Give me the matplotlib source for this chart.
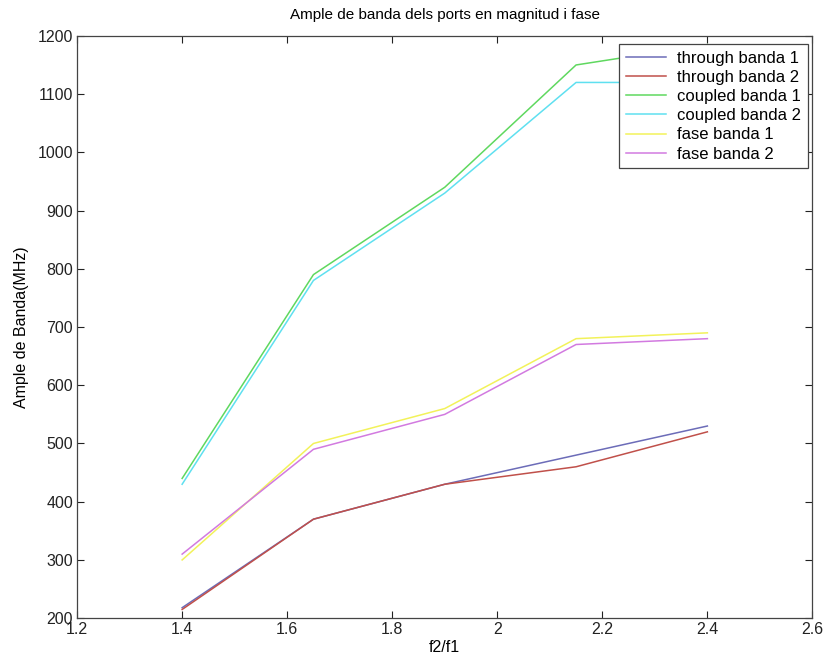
import matplotlib
matplotlib.use("Agg")
import matplotlib.pyplot as plt

plt.rcParams['font.family'] = ['Liberation Sans', 'DejaVu Sans']

ratio = [1.4, 1.65, 1.9, 2.15, 2.4]
through_b1 = [218, 370, 430, 480, 530]
through_b2 = [215, 370, 430, 460, 520]
coupled_b1 = [440, 790, 940, 1150, 1185]
coupled_b2 = [430, 780, 930, 1120, 1120]
fase_b1 = [300, 500, 560, 680, 690]
fase_b2 = [310, 490, 550, 670, 680]

series = [
    ("through banda 1", through_b1, "#6c6cb8"),
    ("through banda 2", through_b2, "#c0504a"),
    ("coupled banda 1", coupled_b1, "#5fd85f"),
    ("coupled banda 2", coupled_b2, "#5fe0f0"),
    ("fase banda 1", fase_b1, "#f2f25a"),
    ("fase banda 2", fase_b2, "#d27ae0"),
]

fig = plt.figure(figsize=(8.29, 6.64), dpi=100)
ax = fig.add_axes([0.093, 0.069, 0.887, 0.877])

for label, vals, col in series:
    ax.plot(ratio, vals, color=col, lw=1.1, label=label)

ax.set_xlim(1.2, 2.6)
ax.set_ylim(200, 1200)
ax.set_xticks([1.2, 1.4, 1.6, 1.8, 2.0, 2.2, 2.4, 2.6])
ax.set_xticklabels(["1.2", "1.4", "1.6", "1.8", "2", "2.2", "2.4", "2.6"])
ax.set_yticks(range(200, 1201, 100))

ax.tick_params(direction='in', length=5, width=0.8, labelsize=11.5,
               top=True, right=True, colors='#222222', pad=3)
for s in ax.spines.values():
    s.set_color('#444444')
    s.set_linewidth(0.9)

ax.set_title("Ample de banda dels ports en magnitud i fase", fontsize=11, pad=12)
ax.set_xlabel("f2/f1", fontsize=11.5, labelpad=2)
ax.set_ylabel("Ample de Banda(MHz)", fontsize=11.5, labelpad=6)

leg = ax.legend(loc='upper right', bbox_to_anchor=(0.994, 0.986), fontsize=12,
                frameon=True, fancybox=False, framealpha=1, edgecolor='#444444',
                handlelength=2.4, handletextpad=0.7, labelspacing=0.25,
                borderpad=0.4, borderaxespad=0)
leg.get_frame().set_linewidth(0.9)

fig.savefig("out.png", dpi=100, facecolor='white')
